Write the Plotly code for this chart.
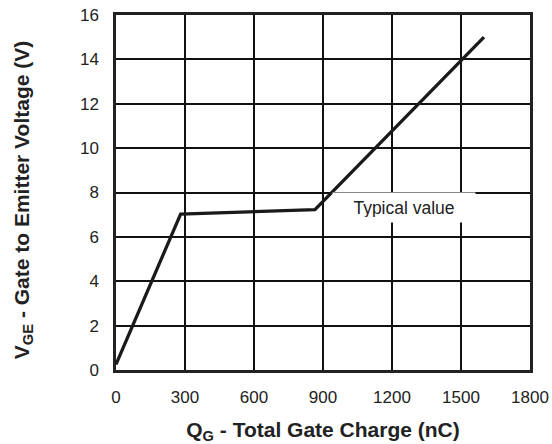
import plotly.graph_objects as go

# Data
charge_nc = [0, 281, 865, 1600]
vge_v = [0.25, 7.03, 7.23, 15.0]

x_ticks = [0, 300, 600, 900, 1200, 1500, 1800]
y_ticks = [0, 2, 4, 6, 8, 10, 12, 14, 16]

FONT = "Liberation Sans, Arial, Helvetica, sans-serif"

fig = go.Figure()
fig.add_trace(go.Scatter(
    x=charge_nc, y=vge_v, mode="lines",
    line=dict(color="#1a1a1a", width=3.3),
    showlegend=False, hoverinfo="skip",
))

fig.add_annotation(
    x=1252, y=7.32, xref="x", yref="y",
    text="Typical value", showarrow=False,
    font=dict(family=FONT, size=17.5, color="#222"),
    bgcolor="white", width=132, height=19, borderpad=5,
)

# y-axis title as a rotated annotation (positioned like the reference)
fig.add_annotation(
    x=-0.225, y=0.478, xref="paper", yref="paper",
    xanchor="center", yanchor="middle", textangle=-90,
    text="<b>V<sub>GE</sub> - Gate to Emitter Voltage (V)</b>",
    showarrow=False, font=dict(family=FONT, size=21, color="#222"),
)

fig.update_layout(
    width=552, height=444,
    margin=dict(l=116, r=22, t=15, b=74),
    paper_bgcolor="white", plot_bgcolor="white",
    font=dict(family=FONT, size=17, color="#222"),
)

fig.update_xaxes(
    range=[0, 1800], tickvals=x_ticks, ticktext=[str(v) for v in x_ticks],
    showgrid=True, gridcolor="#111", gridwidth=1.5,
    showline=True, linecolor="#222", linewidth=2.5, mirror=True,
    zeroline=False, ticks="", ticklabelstandoff=10, automargin=False,
    tickfont=dict(size=17, color="#222"),
    title=dict(text="<b>Q<sub>G</sub> - Total Gate Charge (nC)</b>",
               font=dict(size=21, color="#222"), standoff=17),
)
fig.update_yaxes(
    range=[0, 16], tickvals=y_ticks, ticktext=[str(v) for v in y_ticks],
    showgrid=True, gridcolor="#111", gridwidth=1.5,
    showline=True, linecolor="#222", linewidth=2.5, mirror=True,
    zeroline=False, ticks="", ticklabelstandoff=11, automargin=False,
    tickfont=dict(size=17, color="#222"),
)

fig.write_html("out.html")
